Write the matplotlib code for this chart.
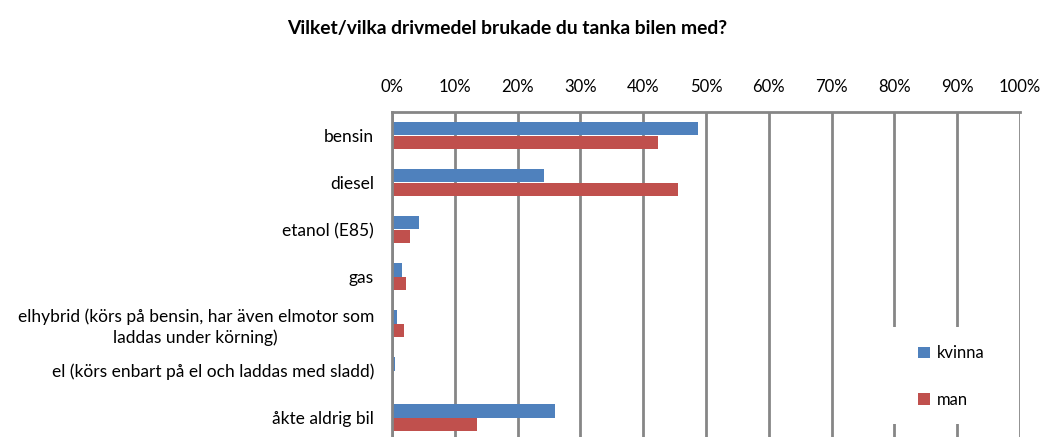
import numpy as np
import matplotlib.pyplot as plt
from matplotlib.patches import Rectangle
from matplotlib.ticker import FuncFormatter

plt.rcParams['font.family'] = ['Lato', 'DejaVu Sans']

# [Data]______________________________________________________________________

categories = ["bensin", "diesel", "etanol (E85)", "gas",
              "elhybrid (körs på bensin, har även elmotor som\nladdas under körning)",
              "el (körs enbart på el och laddas med sladd)", "åkte aldrig bil"]
kvinna = [48.8, 24.2, 4.3, 1.6, 0.8, 0.4, 25.9]
man = [42.3, 45.6, 2.9, 2.3, 1.9, 0.0, 13.6]
xticks = np.arange(0, 101, 10)

blue = "#4f81bd"
red = "#c0504d"
grid = "#868686"

# [Plot]______________________________________________________________________

W, H = 1042, 437
fig = plt.figure(figsize=(W/100, H/100), dpi=100)
ax = fig.add_axes([392/W, 1 - 441/H, 628/W, 329/H])

y = np.arange(len(categories))
h = 0.28
ax.barh(y - h/2, kvinna, height=h, color=blue, label="kvinna")
ax.barh(y + h/2, man, height=h, color=red, label="man")

ax.set_xlim(0, 100)
ax.set_ylim(len(categories) - 0.5, -0.5)
ax.set_xticks(xticks)
ax.xaxis.set_major_formatter(FuncFormatter(lambda v, p: f"{v:.0f}%"))
ax.xaxis.tick_top()
ax.tick_params(axis="x", length=0, pad=12, labelsize=12)
ax.tick_params(axis="y", length=0, pad=13, labelsize=12.5)
ax.set_yticks(y)
ax.set_yticklabels(categories, ha="right", multialignment="center",
                   linespacing=1.3)
ax.grid(axis="x", color=grid, linewidth=2)
ax.set_axisbelow(True)
for s in ["right", "bottom"]:
    ax.spines[s].set_visible(False)
for s in ["top", "left"]:
    ax.spines[s].set_color(grid)
    ax.spines[s].set_linewidth(2)

# white legend area over the gridlines
ax.add_patch(Rectangle(((888-392)/628, (441-424)/329), (1015-888)/628, 97/329,
                       transform=ax.transAxes, facecolor="white", edgecolor="none",
                       zorder=2))
ax.legend(loc="upper left", bbox_to_anchor=(910/W, 1 - 337/H),
          bbox_transform=fig.transFigure, frameon=False, fontsize=12,
          handlelength=0.7, handleheight=0.7, handletextpad=0.4,
          labelspacing=1.85, borderpad=0)

fig.text(0.4866, 0.935, "Vilket/vilka drivmedel brukade du tanka bilen med?",
         ha="center", va="center", fontsize=13.9, fontweight="bold")

fig.savefig("out.png", dpi=100)
